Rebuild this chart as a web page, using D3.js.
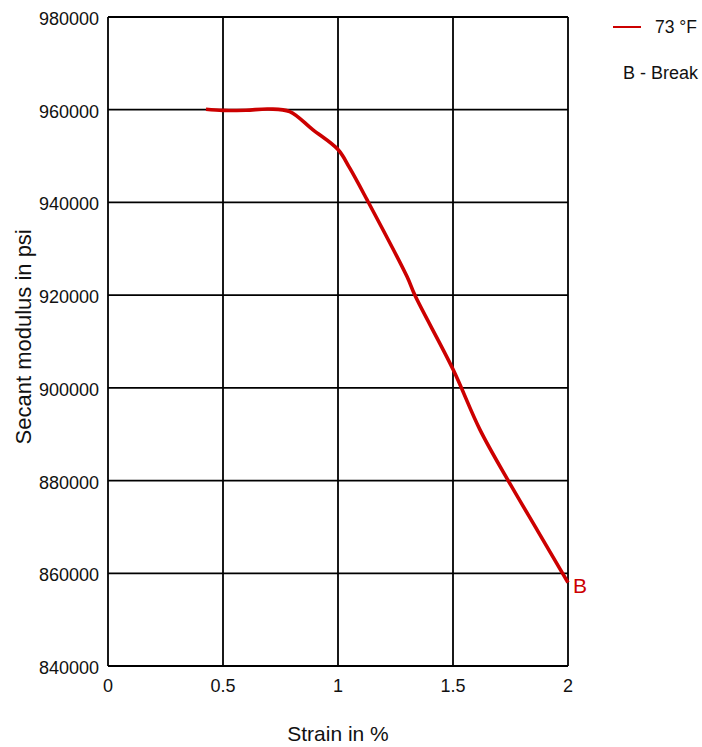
<!DOCTYPE html>
<html>
<head>
<meta charset="utf-8">
<script src="https://cdn.jsdelivr.net/npm/d3@7"></script>
<style>
  body { margin: 0; background: #fff; }
  svg { font-family: "Liberation Sans", Arial, sans-serif; }
</style>
</head>
<body>
<svg id="chart"></svg>
<script>
const width = 702
const height = 747

// strain in %, secant modulus in psi (73 °F)
const strain = [0.426, 0.5, 0.6, 0.7, 0.79, 0.89, 1.0, 1.05, 1.126, 1.3, 1.335, 1.5, 1.617, 1.74, 1.87, 2.0];
const modulus = [960100, 959850, 959900, 960150, 959600, 955700, 951400, 947500, 940600, 924000, 919900, 904000, 891000, 880000, 869000, 858000];

const xTicks = [0, 0.5, 1, 1.5, 2];
const yTicks = [840000, 860000, 880000, 900000, 920000, 940000, 960000, 980000];

const margin = {top: 17, right: 134, bottom: 81, left: 108};

const svg = d3.select("#chart")
    .attr("width", width)
    .attr("height", height);

const x = d3.scaleLinear()
    .domain([0, 2])
    .range([margin.left, width - margin.right]);

const y = d3.scaleLinear()
    .domain([840000, 980000])
    .range([height - margin.bottom, margin.top]);

// grid
const grid = svg.append("g")
    .attr("stroke", "#000")
    .attr("stroke-width", 1.8);

grid.selectAll("line.v")
  .data(xTicks)
  .join("line")
    .attr("class", "v")
    .attr("x1", d => x(d))
    .attr("x2", d => x(d))
    .attr("y1", y(980000))
    .attr("y2", y(840000));

grid.selectAll("line.h")
  .data(yTicks)
  .join("line")
    .attr("class", "h")
    .attr("x1", x(0))
    .attr("x2", x(2))
    .attr("y1", d => y(d))
    .attr("y2", d => y(d));

// tick labels
svg.append("g")
    .attr("font-size", 18)
    .attr("fill", "#111")
    .attr("text-anchor", "end")
  .selectAll("text")
  .data(yTicks)
  .join("text")
    .attr("x", x(0) - 9)
    .attr("y", d => y(d) + 8)
    .text(d => d);

svg.append("g")
    .attr("font-size", 18)
    .attr("fill", "#111")
    .attr("text-anchor", "middle")
  .selectAll("text")
  .data(xTicks)
  .join("text")
    .attr("x", d => x(d))
    .attr("y", y(840000) + 26)
    .text(d => d);

// axis titles
svg.append("text")
    .attr("font-size", 21)
    .attr("fill", "#111")
    .attr("text-anchor", "middle")
    .attr("x", x(1))
    .attr("y", 741)
    .text("Strain in %");

svg.append("text")
    .attr("font-size", 22)
    .attr("fill", "#111")
    .attr("text-anchor", "middle")
    .attr("transform", `translate(31,${y(911000)}) rotate(-90)`)
    .text("Secant modulus in psi");

// curve
const line = d3.line()
    .x(d => x(d[0]))
    .y(d => y(d[1]))
    .curve(d3.curveCatmullRom);

svg.append("path")
    .datum(d3.zip(strain, modulus))
    .attr("fill", "none")
    .attr("stroke", "#cc0000")
    .attr("stroke-width", 3.6)
    .attr("d", line);

svg.append("text")
    .attr("font-size", 21)
    .attr("fill", "#cc0000")
    .attr("x", x(strain[strain.length - 1]) + 5)
    .attr("y", y(modulus[modulus.length - 1]) + 10)
    .text("B");

// legend
svg.append("line")
    .attr("x1", 613)
    .attr("x2", 641)
    .attr("y1", 27)
    .attr("y2", 27)
    .attr("stroke", "#cc0000")
    .attr("stroke-width", 2);

svg.append("text")
    .attr("font-size", 17.5)
    .attr("fill", "#111")
    .attr("x", 655)
    .attr("y", 33)
    .text("73 °F");

svg.append("text")
    .attr("font-size", 18)
    .attr("fill", "#111")
    .attr("x", 623)
    .attr("y", 79)
    .text("B - Break");
</script>
</body>
</html>
